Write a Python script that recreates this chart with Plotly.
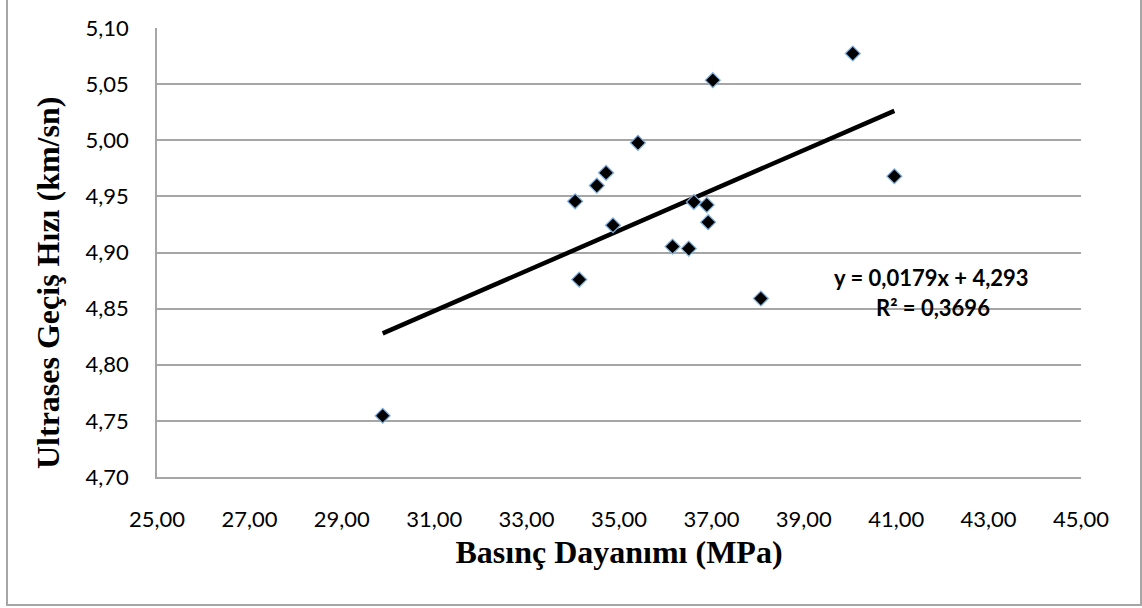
import plotly.graph_objects as go

# Data
basinc_dayanimi = [34.05, 34.52, 34.72, 35.41, 34.87, 34.14, 36.16, 36.51,
                   36.62, 36.90, 36.93, 37.03, 38.07, 40.06, 40.96, 29.885]
ultrases_hizi = [4.9456, 4.9596, 4.9710, 4.9977, 4.9243, 4.8759, 4.9053, 4.9035,
                 4.9450, 4.9424, 4.9270, 5.0535, 4.8590, 5.0773, 4.9679, 4.7546]

# Trendline (as labelled on the chart)
slope = 0.0179
intercept = 4.293
r_squared = 0.3696

x_title = "Basınç Dayanımı (MPa)"
y_title = "Ultrases Geçiş Hızı (km/sn)"
eq_text = "y = 0,0179x + 4,293"
r2_text = "R² = 0,3696"

trend_x = [min(basinc_dayanimi), max(basinc_dayanimi)]
trend_y = [slope * v + intercept for v in trend_x]

W, H = 1142, 608
ML, MR, MT, MB = 157, 61, 28, 131
PW, PH = W - ML - MR, H - MT - MB

def px(xp):
    return (xp - ML) / PW

def py(yp):
    return (H - MB - yp) / PH

fig = go.Figure()
fig.add_trace(go.Scatter(
    x=trend_x, y=trend_y, mode="lines",
    line=dict(color="black", width=4.5),
    hoverinfo="skip", showlegend=False,
))
fig.add_trace(go.Scatter(
    x=basinc_dayanimi, y=ultrases_hizi, mode="markers",
    marker=dict(symbol="diamond", size=11.5, color="black",
                line=dict(color="#7FB0E0", width=1.2)),
    showlegend=False,
))

grid_col = "#A6A6A6"
tick_font = dict(family="Lato", size=22, color="black")
title_font = dict(family="Liberation Serif", size=32, color="black")

fig.update_xaxes(
    range=[25, 45], dtick=2, tick0=25, tickformat=".2f",
    showgrid=False, zeroline=False,
    showline=True, linecolor=grid_col, linewidth=1.5,
    ticks="", tickfont=tick_font, ticklabelstandoff=22,
    title=dict(text="<b>" + x_title + "</b>", font=title_font, standoff=9),
)
fig.update_yaxes(
    range=[4.70, 5.10], dtick=0.05, tick0=4.70, tickformat=".2f",
    showgrid=True, gridcolor=grid_col, gridwidth=1.5, zeroline=False,
    showline=True, linecolor=grid_col, linewidth=1.5,
    ticks="", tickfont=tick_font, ticklabelstandoff=22,
)

# y-axis title (placed as in the reference, slightly below plot centre)
fig.add_annotation(x=px(48), y=py(283), xref="paper", yref="paper",
                   text="<b>" + y_title + "</b>", textangle=-90,
                   showarrow=False, xanchor="center", yanchor="middle",
                   font=title_font)

fig.add_annotation(x=px(931), y=py(277), xref="paper", yref="paper",
                   text="<b>" + eq_text + "</b>", showarrow=False,
                   xanchor="center", yanchor="middle",
                   font=dict(family="Lato", size=22, color="black"))
fig.add_annotation(x=px(933), y=py(307), xref="paper", yref="paper",
                   text="<b>" + r2_text + "</b>", showarrow=False,
                   xanchor="center", yanchor="middle",
                   font=dict(family="Lato", size=22, color="black"))

# outer chart border
fig.add_shape(type="rect", xref="paper", yref="paper",
              x0=px(7), x1=px(1141), y0=py(605), y1=py(-5),
              line=dict(color="#A6A6A6", width=2), fillcolor="rgba(0,0,0,0)",
              layer="below")

fig.update_layout(
    width=W, height=H,
    margin=dict(l=ML, r=MR, t=MT, b=MB),
    paper_bgcolor="white", plot_bgcolor="white",
    separators=",.",
    showlegend=False,
)

fig.write_html("out.html")
